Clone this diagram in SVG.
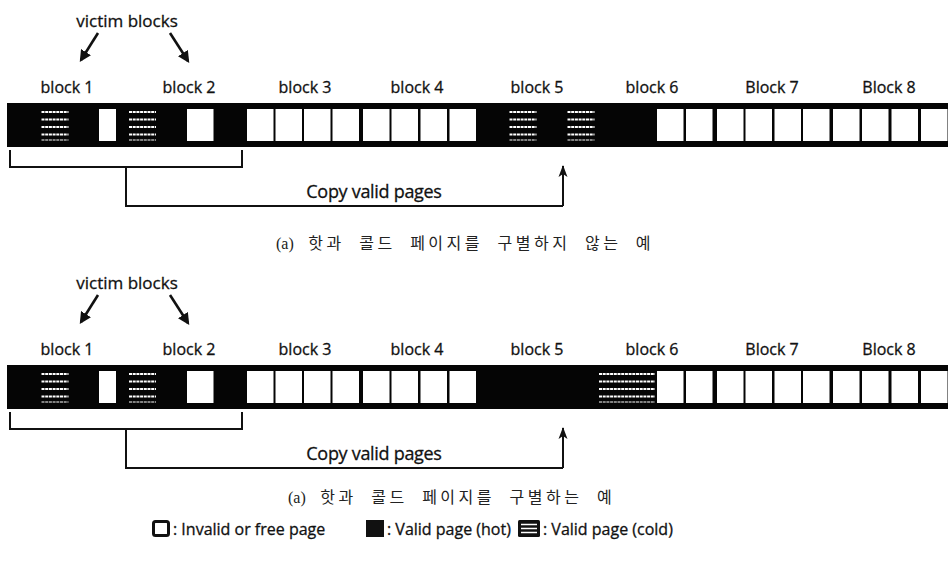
<svg xmlns="http://www.w3.org/2000/svg" width="948" height="561" viewBox="0 0 948 561">
  <defs>
    <style>
      .lbl{font-family:"Open Sans","Liberation Sans",sans-serif;font-size:16px;fill:#111;stroke:#111;stroke-width:0.3;text-anchor:middle}
      .big{font-size:17px}
      .cpy{font-size:18px;letter-spacing:-0.3px}
      .leg{font-family:"Open Sans","Liberation Sans",sans-serif;font-size:16px;fill:#111;stroke:#111;stroke-width:0.3}
      .cap{font-family:"Liberation Serif","Noto Sans CJK KR",serif;font-size:16px;fill:#222;letter-spacing:3.5px;word-spacing:7px}
      .cap .tag{letter-spacing:0;word-spacing:0}
      .strip{fill:#050505}
      .pw{fill:#fff}
      .st{stroke:#fff;stroke-width:2;stroke-dasharray:3 0.7;fill:none}
      .ln{fill:none;stroke:#111;stroke-width:2}
      .ar{fill:none;stroke:#111;stroke-width:2.6}
    </style>
    <marker id="ah" viewBox="0 0 10 10" refX="8" refY="5" markerWidth="4.5" markerHeight="4.5" orient="auto" markerUnits="strokeWidth">
      <path d="M0,0 L10,5 L0,10 z" fill="#111"/>
    </marker>
    <marker id="up" viewBox="0 0 12 10" refX="11" refY="5" markerWidth="6" markerHeight="6" orient="auto" markerUnits="strokeWidth">
      <path d="M0,0.5 L12,5 L0,9.5 L3,5 z" fill="#111"/>
    </marker>
    <!-- white (invalid/free) page -->
    <rect id="wp" width="26.5" height="32" class="pw"/>
    <!-- cold page stripes, drawn over the black strip -->
    <g id="cp">
      <path class="st" d="M0,3H27M0,10.5H27M0,18H27M0,25.5H27"/>
      <path class="st" d="M0,31H27" opacity="0.5"/>
    </g>
    <g id="cp2">
      <path class="st" d="M0,3H56M0,10.5H56M0,18H56M0,25.5H56"/>
      <path class="st" d="M0,31H56" opacity="0.5"/>
    </g>
  </defs>

  <rect width="948" height="561" fill="#fff"/>

  <!-- ===== upper strip: hot and cold pages mixed ===== -->
  <g id="panel-a">
    <text class="lbl big" x="127" y="27">victim blocks</text>
    <rect class="strip" x="7" y="103" width="945" height="44"/>

    <g id="a-block1">
      <text class="lbl" x="67" y="93">block 1</text>
      <use href="#cp" x="41.5" y="109"/>
      <rect class="pw" x="99" y="109" width="17" height="32"/>
    </g>
    <g id="a-block2">
      <text class="lbl" x="189" y="93">block 2</text>
      <use href="#cp" x="129" y="109"/>
      <use href="#wp" x="187" y="109"/>
    </g>
    <g id="a-block3">
      <text class="lbl" x="305" y="93">block 3</text>
      <use href="#wp" x="247" y="109"/>
      <use href="#wp" x="275.5" y="109"/>
      <use href="#wp" x="304" y="109"/>
      <use href="#wp" x="332.5" y="109"/>
    </g>
    <g id="a-block4">
      <text class="lbl" x="417" y="93">block 4</text>
      <use href="#wp" x="363" y="109"/>
      <use href="#wp" x="391.5" y="109"/>
      <use href="#wp" x="420.5" y="109"/>
      <use href="#wp" x="449.5" y="109"/>
    </g>
    <g id="a-block5">
      <text class="lbl" x="537" y="93">block 5</text>
      <use href="#cp" x="509.5" y="109"/>
      <use href="#cp" x="567.5" y="109"/>
    </g>
    <g id="a-block6">
      <text class="lbl" x="652" y="93">block 6</text>
      <use href="#wp" x="657" y="109"/>
      <use href="#wp" x="686" y="109"/>
    </g>
    <g id="a-block7">
      <text class="lbl" x="772" y="93">Block 7</text>
      <use href="#wp" x="717" y="109"/>
      <use href="#wp" x="745.5" y="109"/>
      <use href="#wp" x="774.5" y="109"/>
      <use href="#wp" x="803" y="109"/>
    </g>
    <g id="a-block8">
      <text class="lbl" x="889" y="93">Block 8</text>
      <use href="#wp" x="833" y="109"/>
      <use href="#wp" x="862" y="109"/>
      <use href="#wp" x="891.5" y="109"/>
      <use href="#wp" x="921" y="109"/>
    </g>

    <text class="lbl cpy" x="374" y="198">Copy valid pages</text>
    <text class="cap" x="276" y="249"><tspan class="tag">(a)</tspan> 핫과 콜드 페이지를 구별하지 않는 예</text>
  </g>

  <!-- ===== lower strip: cold pages gathered into one block ===== -->
  <g id="panel-b">
    <text class="lbl big" x="127" y="289">victim blocks</text>
    <rect class="strip" x="7" y="365" width="945" height="44"/>

    <g id="b-block1">
      <text class="lbl" x="67" y="355">block 1</text>
      <use href="#cp" x="41.5" y="371"/>
      <rect class="pw" x="99" y="371" width="17" height="32"/>
    </g>
    <g id="b-block2">
      <text class="lbl" x="189" y="355">block 2</text>
      <use href="#cp" x="129" y="371"/>
      <use href="#wp" x="187" y="371"/>
    </g>
    <g id="b-block3">
      <text class="lbl" x="305" y="355">block 3</text>
      <use href="#wp" x="247" y="371"/>
      <use href="#wp" x="275.5" y="371"/>
      <use href="#wp" x="304" y="371"/>
      <use href="#wp" x="332.5" y="371"/>
    </g>
    <g id="b-block4">
      <text class="lbl" x="417" y="355">block 4</text>
      <use href="#wp" x="363" y="371"/>
      <use href="#wp" x="391.5" y="371"/>
      <use href="#wp" x="420.5" y="371"/>
      <use href="#wp" x="449.5" y="371"/>
    </g>
    <g id="b-block5">
      <text class="lbl" x="537" y="355">block 5</text>
    </g>
    <g id="b-block6">
      <text class="lbl" x="652" y="355">block 6</text>
      <use href="#cp2" x="599" y="371"/>
      <use href="#wp" x="657" y="371"/>
      <use href="#wp" x="686" y="371"/>
    </g>
    <g id="b-block7">
      <text class="lbl" x="772" y="355">Block 7</text>
      <use href="#wp" x="717" y="371"/>
      <use href="#wp" x="745.5" y="371"/>
      <use href="#wp" x="774.5" y="371"/>
      <use href="#wp" x="803" y="371"/>
    </g>
    <g id="b-block8">
      <text class="lbl" x="889" y="355">Block 8</text>
      <use href="#wp" x="833" y="371"/>
      <use href="#wp" x="862" y="371"/>
      <use href="#wp" x="891.5" y="371"/>
      <use href="#wp" x="921" y="371"/>
    </g>

    <text class="lbl cpy" x="374" y="460">Copy valid pages</text>
    <text class="cap" x="288" y="503"><tspan class="tag">(a)</tspan> 핫과 콜드 페이지를 구별하는 예</text>
  </g>

  <!-- ===== connectors ===== -->
  <g id="connectors">
    <path class="ar" d="M98,33 L81,60" marker-end="url(#ah)"/>
    <path class="ar" d="M170,33 L188,61" marker-end="url(#ah)"/>
    <path class="ln" d="M10,150 V167 H242 V150 M126,167 V206 H563"/>
    <path class="ln" d="M563,206 V166" marker-end="url(#up)"/>

    <path class="ar" d="M98,295 L81,322" marker-end="url(#ah)"/>
    <path class="ar" d="M170,295 L188,323" marker-end="url(#ah)"/>
    <path class="ln" d="M10,412 V429 H242 V412 M126,429 V468 H563"/>
    <path class="ln" d="M563,468 V428" marker-end="url(#up)"/>
  </g>

  <!-- ===== legend ===== -->
  <g id="legend">
    <rect x="153.5" y="521.5" width="15" height="14" rx="2" fill="#fff" stroke="#111" stroke-width="3"/>
    <text class="leg" x="173" y="535">: Invalid or free page</text>
    <rect x="366" y="520" width="18" height="17" fill="#111"/>
    <text class="leg" x="387" y="535">: Valid page (hot)</text>
    <rect x="518" y="520" width="22" height="17" rx="1.5" fill="#111"/>
    <path d="M521,524.5H537M521,528.5H537M521,532.5H537" stroke="#fff" stroke-width="1.6"/>
    <text class="leg" x="543" y="535">: Valid page (cold)</text>
  </g>
</svg>
